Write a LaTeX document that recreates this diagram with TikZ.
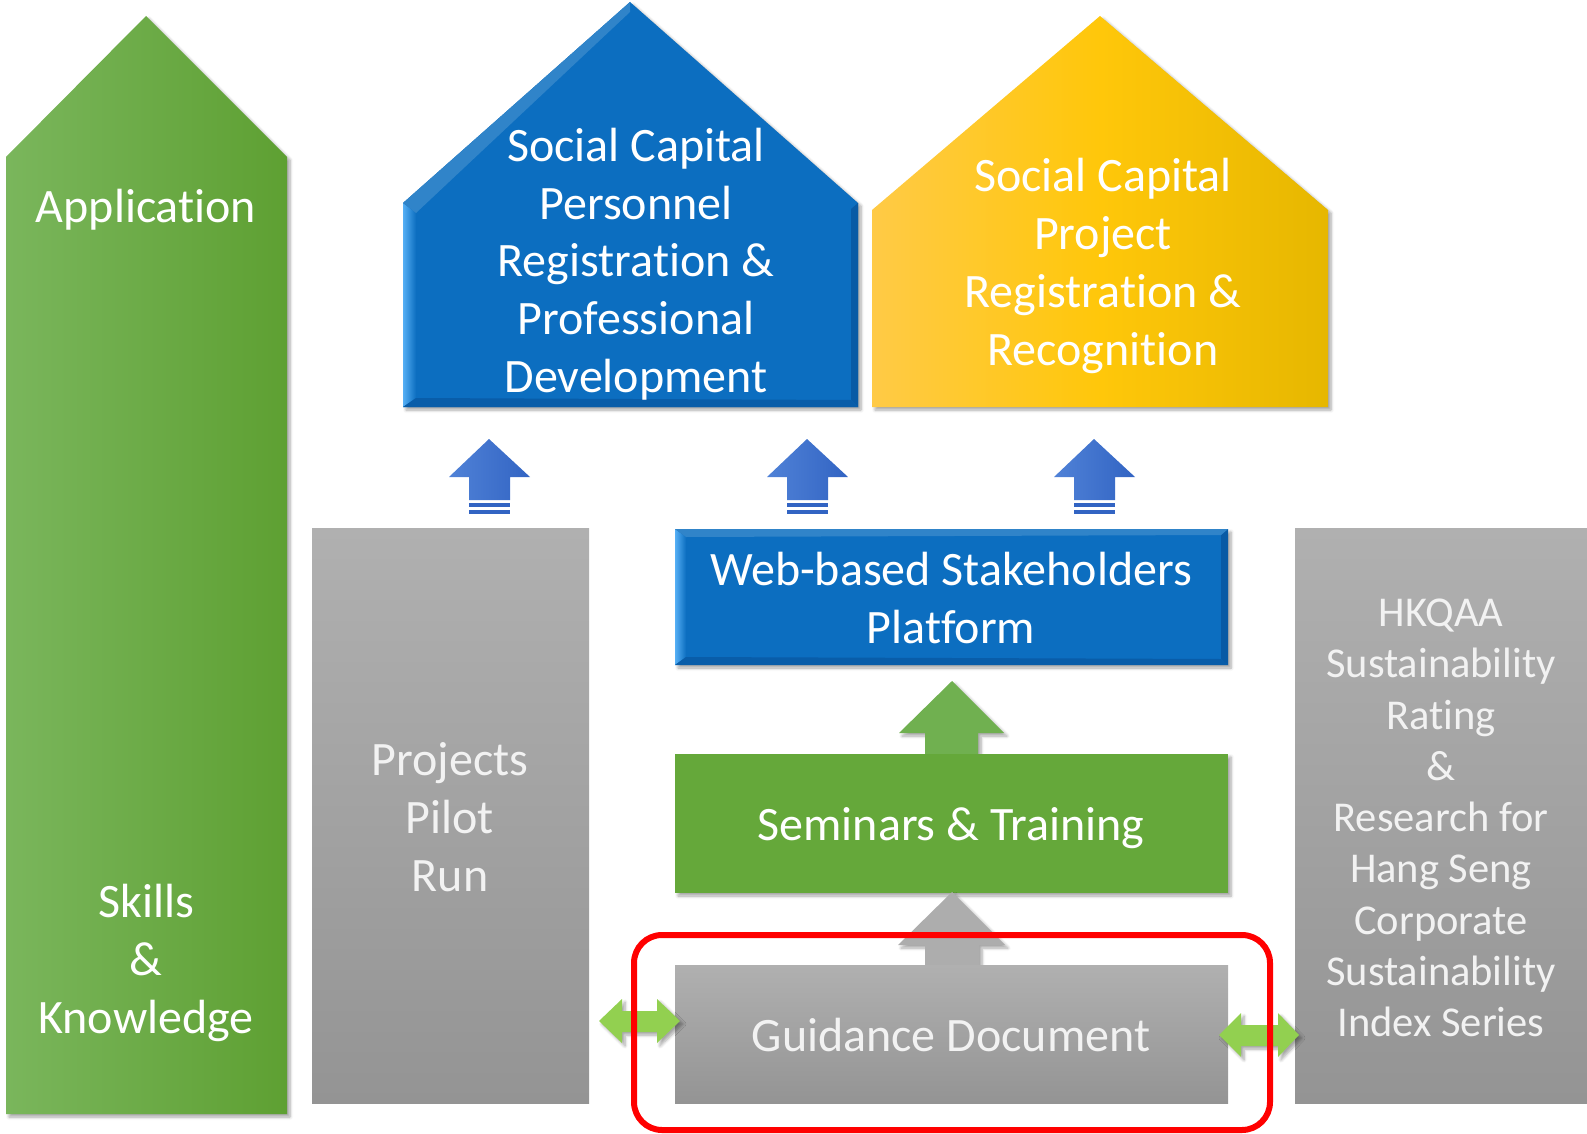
\documentclass[tikz,border=0pt]{standalone}
\usepackage{fontspec}
\setmainfont{Carlito}[Ligatures=CommonOff]
\usetikzlibrary{shadows.blur}
\definecolor{appL}{RGB}{122,182,92}
\definecolor{appR}{RGB}{94,160,50}
\definecolor{blueM}{RGB}{12,110,192}
\definecolor{blueL}{RGB}{85,175,245}
\definecolor{blueD}{RGB}{8,90,165}
\definecolor{yelL}{RGB}{255,202,70}
\definecolor{yelM}{RGB}{255,199,10}
\definecolor{yelR}{RGB}{230,183,0}
\definecolor{arrL}{RGB}{80,130,215}
\definecolor{arrR}{RGB}{50,100,195}
\definecolor{grT}{RGB}{176,176,176}
\definecolor{grB}{RGB}{148,148,148}
\definecolor{semG}{RGB}{101,168,58}
\definecolor{upG}{RGB}{112,176,80}
\definecolor{dblG}{RGB}{146,208,80}
\begin{document}
\begin{tikzpicture}[x=1pt,y=-1pt,
 lbl/.style={text=white, align=center, font=\fontsize{48}{57.7}\selectfont, inner sep=0pt},
 lblsm/.style={text=white!95!black, align=center, font=\fontsize{42.5}{51.3}\selectfont, inner sep=0pt},
 shad/.style={blur shadow={shadow xshift=3pt, shadow yshift=-3pt, shadow opacity=35, shadow blur steps=6, shadow blur radius=3pt}},
 grayfill/.style={top color=grT, bottom color=grB},
 dblarrow/.style={fill=dblG, shad},
 redframe/.style={draw=red, line width=6pt, rounded corners=28pt}
]
\useasboundingbox (0,0) rectangle (1587,1134);

% Application arrow
\shade[shad, left color=appL, right color=appR]
  (6,157) -- (146,16) -- (287,157) -- (287,1114) -- (6,1114) -- cycle;
\node[lbl] (app) at (146,210) {Application};
\node[lbl] (skills) at (146,963) {Skills\\\&\\Knowledge};

% Blue house
\fill[shad, blueM] (403,203) -- (630,2) -- (858,203) -- (858,407) -- (403,407) -- cycle;
\shade[left color=blueL, right color=blueM] (403,203) -- (416,213) -- (416,398) -- (403,407) -- cycle;
\fill[blueD] (858,203) -- (851,209) -- (851,400) -- (858,407) -- cycle;
\fill[blueD!85!blueM] (403,407) -- (416,398) -- (851,400) -- (858,407) -- cycle;
\fill[blueM!85!white] (403,203) -- (630,2) -- (630,12) -- (416,213) -- cycle;
\node[lbl] (pers) at (636,264) {Social Capital\\Personnel\\Registration \&\\Professional\\Development};

% Yellow house
\shade[shad, left color=yelL, right color=yelR, middle color=yelM]
  (872,210) -- (1100,16) -- (1328,210) -- (1328,407) -- (872,407) -- cycle;
\node[lbl] (proj) at (1103,266) {Social Capital\\Project\\Registration \&\\Recognition};

% Small blue arrows
\foreach \x/\n in {489/ua, 807/ub, 1094/uc}{
  \shade[left color=arrL, right color=arrR]
    (\x-40,477) -- (\x,439) -- (\x+41,477) -- (\x+21,477) -- (\x+21,500) -- (\x-20,500) -- (\x-20,477) -- cycle;
  \fill[arrR] (\x-20,503) rectangle (\x+21,507);
  \fill[arrR] (\x-20,510) rectangle (\x+21,514);
  \coordinate (\n) at (\x,439);
}

% Projects pilot run box
\shade[grayfill] (312,528) rectangle (589,1103);
\node[lbl, text=white!95!black] (pilot) at (450,817) {Projects\\Pilot\\Run};

% Right gray box
\shade[grayfill] (1295,528) rectangle (1587,1103);
\node[lblsm] (hkqaa) at (1441,818) {HKQAA\\Sustainability\\Rating\\\&\\Research for\\Hang Seng\\Corporate\\Sustainability\\Index Series};

% Web-based box
\fill[shad, blueM] (675,529) rectangle (1228,665);
\shade[left color=blueL, right color=blueM] (675,529) -- (686,537) -- (686,657) -- (675,665) -- cycle;
\fill[blueD] (1228,529) -- (1221,535) -- (1221,659) -- (1228,665) -- cycle;
\fill[blueD!85!blueM] (675,665) -- (686,657) -- (1221,659) -- (1228,665) -- cycle;
\fill[blueM!85!white] (675,529) -- (1228,529) -- (1221,535) -- (686,537) -- cycle;
\node[lbl] (web) at (951,598) {Web-based Stakeholders\\Platform};

% Green up arrow
\fill[shad, upG] (899,733) -- (952,681) -- (1004,733) -- (978,733) -- (978,756) -- (925,756) -- (925,733) -- cycle;

% Seminars box
\fill[shad, semG] (675,754) rectangle (1228,893);
\node[lbl] (sem) at (951,828) {Seminars \& Training};

% Gray up arrow
\fill[shad, grT!90!grB] (898,945) -- (952,892) -- (1005,945) -- (979,945) -- (979,966) -- (925,966) -- (925,945) -- cycle;

% Guidance box
\shade[grayfill] (675,965) rectangle (1228,1103);
\node[lbl, text=white!95!black] (guide) at (951,1035) {Guidance Document};

% Double arrows
\fill[dblarrow] (599,1021) -- (622,999) -- (622,1011) -- (657,1011) -- (657,999) -- (680,1021) -- (657,1043) -- (657,1032) -- (622,1032) -- (622,1043) -- cycle;
\fill[dblarrow] (1219,1035) -- (1241,1013) -- (1241,1025) -- (1278,1025) -- (1278,1013) -- (1299,1035) -- (1278,1057) -- (1278,1046) -- (1241,1046) -- (1241,1057) -- cycle;

% Red frame
\draw[redframe] (634,935) rectangle (1270,1130);
\end{tikzpicture}
\end{document}
